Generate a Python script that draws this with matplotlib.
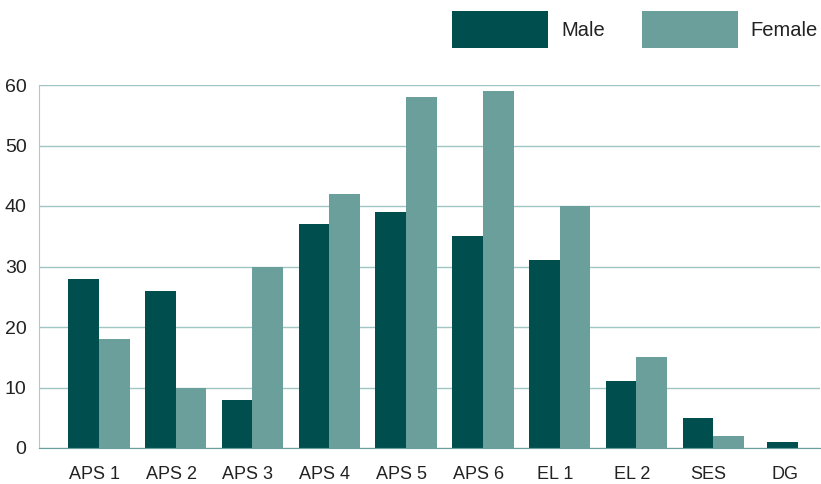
import matplotlib.pyplot as plt
import numpy as np

categories = ['APS 1', 'APS 2', 'APS 3', 'APS 4', 'APS 5', 'APS 6', 'EL 1', 'EL 2', 'SES', 'DG']
male = [28, 26, 8, 37, 39, 35, 31, 11, 5, 1]
female = [18, 10, 30, 42, 58, 59, 40, 15, 2, None]

male_color = '#004f4e'
female_color = '#6a9f9b'
grid_color = '#9fc6c3'

plt.rcParams['font.family'] = ['Liberation Sans', 'DejaVu Sans']

fig = plt.figure(figsize=(8.21, 4.84), dpi=100)
ax = fig.add_axes([39 / 821, 1 - 448 / 484, (820 - 39) / 821, (448 - 85) / 484])

x = np.arange(len(categories))
ticks = x - 0.06
w = 0.4
for i in x:
    if female[i] is None:
        # only one bar in this group, so it sits on the label
        ax.bar(ticks[i] - 0.04, male[i], w, color=male_color, zorder=3)
    else:
        ax.bar(i - w / 2, male[i], w, color=male_color, zorder=3,
               label='Male' if i == 0 else None)
        ax.bar(i + w / 2, female[i], w, color=female_color, zorder=3,
               label='Female' if i == 0 else None)

ax.set_xlim(-0.78, 9.39)
ax.set_ylim(0, 60)
ax.set_yticks(range(0, 61, 10))
ax.set_xticks(ticks)
ax.set_xticklabels(categories)
ax.tick_params(length=0, labelcolor='#222222')
ax.tick_params(axis='y', pad=9, labelsize=14)
ax.tick_params(axis='x', pad=13, labelsize=13)

ax.yaxis.grid(True, color=grid_color, linewidth=1, zorder=0)
for s in ['top', 'right']:
    ax.spines[s].set_visible(False)
ax.spines['left'].set_color('#a9cccb')
ax.spines['bottom'].set_color(female_color)
ax.spines['bottom'].set_zorder(4)

lfs = 14.5
fs = lfs * 100 / 72
fig.legend(loc='upper right', bbox_to_anchor=(818 / 821, 1 - 11 / 484), ncol=2,
           frameon=False, fontsize=lfs, labelcolor='#222222',
           handlelength=96 / fs, handleheight=(37 / fs - 0.245) / 0.65,
           handletextpad=13 / fs, columnspacing=37 / fs, borderpad=0, borderaxespad=0)

fig.savefig('out.png', dpi=100)
